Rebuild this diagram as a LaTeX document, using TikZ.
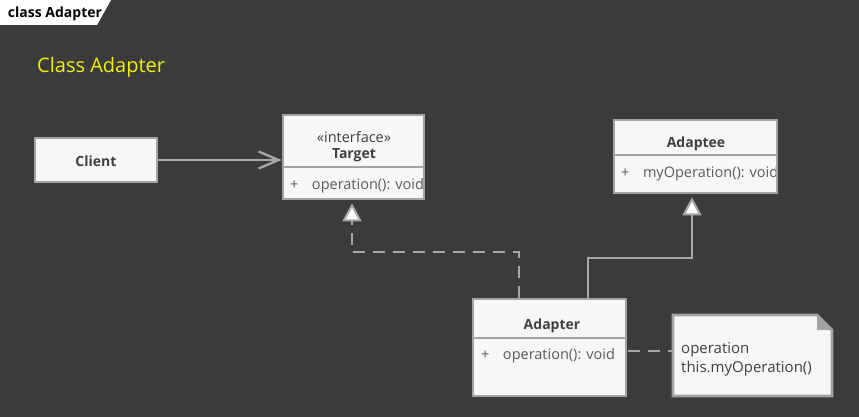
\documentclass[tikz,border=0pt]{standalone}
\usepackage{fontspec}
\setmainfont{Open Sans}
\usetikzlibrary{arrows.meta,shapes.misc}
\definecolor{canvas}{HTML}{3B3B3B}
\definecolor{boxfill}{HTML}{F7F7F7}
\definecolor{boxline}{HTML}{A3A3A3}
\definecolor{wire}{HTML}{A8A8A8}
\definecolor{ink}{HTML}{404040}
\definecolor{member}{HTML}{5A5A5A}
\definecolor{headline}{HTML}{F2F200}
\begin{document}
\begin{tikzpicture}[
x=1pt, y=-1pt,
umlbox/.style={rectangle, draw=boxline, fill=boxfill, line width=2.6pt, inner sep=0pt},
classname/.style={font=\fontsize{14}{16}\selectfont\bfseries, text=ink},
memberline/.style={anchor=west, font=\fontsize{14.5}{17}\selectfont, text=member, inner sep=0pt},
wireline/.style={draw=wire, line width=2.6pt},
realize/.style={wireline, dash pattern=on 12pt off 8pt, -{Triangle[open, length=18pt, width=19pt, fill=white, line width=2pt]}, shorten >=3pt},
inherit/.style={wireline, -{Triangle[open, length=18pt, width=19pt, fill=white, line width=2pt]}, shorten >=3pt},
assoc/.style={wireline, -{Straight Barb[length=20pt, width=17pt, line width=2.4pt]}},
notelink/.style={wireline, dash pattern=on 12pt off 8pt}
]
\useasboundingbox (0,0) rectangle (859,417);
\fill[canvas] (0,0) rectangle (859,417);

% tab and title
\fill[white] (0,0) -- (111,0) -- (97,25) -- (0,25) -- cycle;
\node[font=\fontsize{14}{16}\selectfont\bfseries, text=black] (tab) at (55,14) {class Adapter};
\node[anchor=west, font=\fontsize{20}{23}\selectfont, text=headline, inner sep=0pt] (title) at (37,67) {Class Adapter};

% classes
\node[umlbox, minimum width=122pt, minimum height=44pt] (client) at (96,160) {};
\node[classname] (clientname) at ([yshift=-1pt]client) {Client};

\node[umlbox, minimum width=141pt, minimum height=84pt] (target) at (353.5,157) {};
\draw[boxline, line width=2.2pt] (target.west |- 0,167) -- (target.east |- 0,167);
\node[font=\fontsize{14.5}{17}\selectfont, text=ink] (stereo) at (354,137) {«interface»};
\node[classname] (targetname) at (354,155.5) {Target};
\begin{scope}
\clip (284,168) rectangle (422,198);
\node[memberline] (targetop) at (290,185.5) {+\hspace{13.5pt}operation(): void};
\end{scope}

\node[umlbox, minimum width=163pt, minimum height=73pt] (adaptee) at (695.5,156.5) {};
\draw[boxline, line width=2.2pt] (adaptee.west |- 0,155) -- (adaptee.east |- 0,155);
\node[classname] (adapteename) at (696,143.5) {Adaptee};
\begin{scope}
\clip (615,156) rectangle (775,192);
\node[memberline] (adapteeop) at (621,173.5) {+\hspace{13.5pt}myOperation(): void};
\end{scope}

\node[umlbox, minimum width=153pt, minimum height=97pt] (adapter) at (549.5,347.5) {};
\draw[boxline, line width=2.2pt] (adapter.west |- 0,338) -- (adapter.east |- 0,338);
\node[classname] (adaptername) at (552,325.5) {Adapter};
\node[memberline] (adapterop) at (481,355.5) {+\hspace{13.5pt}operation(): void};

% note
\node[umlbox, minimum width=159pt, minimum height=81pt] (note) at (752.5,355.5) {};
\fill[canvas] (note.north east) -- ++(-16,0) -- ++(16,16) -- cycle;
\draw[boxline, line width=2.6pt, fill=boxfill] (817,315) -- (832,330) -- (832,396) -- (673,396) -- (673,315) -- cycle;
\fill[boxline] (817,315) -- (817,330) -- (832,330) -- cycle;
\node[anchor=west, align=left, font=\fontsize{15}{19}\selectfont, text=ink, inner sep=0pt] (notetext) at (681,359) {operation\\this.myOperation()};

% connectors
\coordinate (realA) at (519,252);
\coordinate (realB) at (352,252);
\coordinate (inhA) at (588,258);
\coordinate (inhB) at (692,258);
\coordinate (linkA) at (628,351);
\draw[assoc] (client.east) -- (client.east -| target.west);
\draw[realize] (adapter.north -| realA) -- (realA) -- (realB) -- (target.south -| realB);
\draw[inherit] (adapter.north -| inhA) -- (inhA) -- (inhB) -- (adaptee.south -| inhB);
\draw[notelink] (linkA) -- (linkA -| note.west);
\end{tikzpicture}
\end{document}
